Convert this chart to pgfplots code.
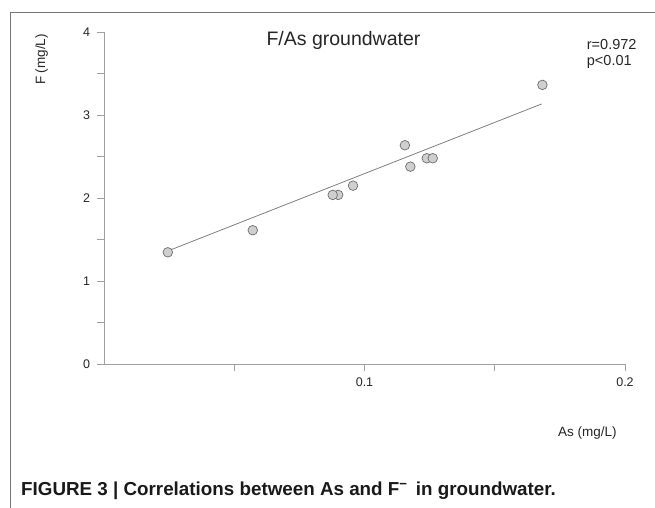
\documentclass[border=0pt]{standalone}
\usepackage{fontspec}
\setmainfont{Liberation Sans}
\usepackage{pgfplots}
\pgfplotsset{compat=1.18}
\definecolor{axgray}{HTML}{A0A0A0}
\definecolor{dotfill}{HTML}{CFCFCF}
\definecolor{dotedge}{HTML}{6E6E6E}
\definecolor{fitgray}{HTML}{7F7F7F}
\definecolor{framegray}{HTML}{767676}

\begin{document}
\begin{tikzpicture}
\useasboundingbox (0,0) rectangle (655bp,508bp);
\draw[framegray, line width=0.9bp] (10bp,0) -- (10bp,496bp) -- (655bp,496bp);
\begin{axis}[
  at={(104bp,144bp)}, anchor=south west,
  scale only axis, width=521bp, height=331.7bp,
  xmin=0, xmax=0.2, ymin=0, ymax=4,
  axis lines=left,
  axis line style={-, draw=axgray, line width=0.8bp},
  tick style={draw=axgray, line width=0.8bp},
  tick align=outside,
  major tick length=7bp,
  xtick={0.05,0.1,0.15,0.2}, xticklabels={,0.1,,0.2},
  ytick={0,0.5,1,1.5,2,2.5,3,3.5,4}, yticklabels={0,,1,,2,,3,,4},
  /pgf/number format/assume math mode=true,
  tick label style={font=\fontsize{12.5bp}{14bp}\selectfont, text=black!85},
  xticklabel style={yshift=-3bp},
  yticklabel style={xshift=-3.5bp},
  xlabel={As (mg/L)},
  xlabel style={at={(rel axis cs:0.928,-0.208)}, anchor=center,
    font=\fontsize{13.5bp}{15bp}\selectfont, text=black!85},
  ylabel={F (mg/L)},
  ylabel style={at={(rel axis cs:-0.1196,0.918)}, anchor=center, rotate=0,
    font=\fontsize{13.5bp}{15bp}\selectfont, text=black!85},
  clip=false,
]
\addplot[fitgray, line width=0.8bp] coordinates {(0.0245,1.363) (0.168,3.136)};
\addplot[only marks, mark=*, mark size=4.8bp,
  mark options={fill=dotfill, draw=dotedge, line width=0.7bp}] coordinates {
  (0.0245,1.347) (0.0571,1.613) (0.0899,2.039) (0.0878,2.039) (0.0956,2.151)
  (0.1155,2.638) (0.1176,2.380) (0.1239,2.481) (0.1262,2.481) (0.1683,3.366)
};
\node[anchor=base west, inner sep=0pt, font=\fontsize{14.5bp}{16bp}\selectfont, text=black!85]
  at (rel axis cs:0.9265,0.9488) {r=0.972};
\node[anchor=base west, inner sep=0pt, font=\fontsize{14.5bp}{16bp}\selectfont, text=black!85]
  at (rel axis cs:0.9265,0.9014) {p<0.01};
\end{axis}
\node[anchor=base, inner sep=0pt, font=\fontsize{19.5bp}{22bp}\selectfont, text=black!85]
  at (343.5bp,462.3bp) {F/As groundwater};
\node[anchor=base west, inner sep=0pt, font=\bfseries\fontsize{18.8bp}{21bp}\selectfont, text=black!90]
  at (21bp,13bp) {FIGURE 3 | Correlations between As and F\textsuperscript{−}\, in groundwater.};
\end{tikzpicture}
\end{document}
